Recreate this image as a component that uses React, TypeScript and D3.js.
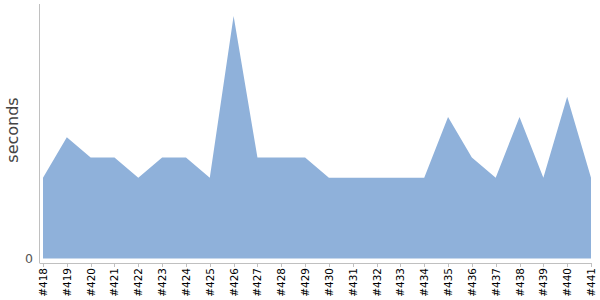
import React from "react";
import * as d3 from "d3";

const builds = ["#418","#419","#420","#421","#422","#423","#424","#425","#426","#427","#428","#429","#430","#431","#432","#433","#434","#435","#436","#437","#438","#439","#440","#441"];
const seconds = [4,6,5,5,4,5,5,4,12,5,5,5,4,4,4,4,4,7,5,4,7,4,8,4];
const yTicks = [0];

export default function App() {
  const W = 600, H = 300;
  const x = d3.scalePoint<string>().domain(builds).range([43, 591]);
  const y = d3.scaleLinear().domain([0, 12]).range([258.5, 16]);
  const data = builds.map((b, i) => ({ b, v: seconds[i] }));
  const area = d3.area<{ b: string; v: number }>()
    .x(d => x(d.b)!)
    .y0(y(0))
    .y1(d => y(d.v));
  const axisY = 263;
  return (
    <svg width={W} height={H} style={{ position: "absolute", left: 0, top: 0 }}>
      <path d={area(data)!} fill="#8fb1da" />
      <line x1={39.5} x2={39.5} y1={4} y2={axisY} stroke="#c0c0c0" />
      <line x1={39.5} x2={591.5} y1={axisY + 0.5} y2={axisY + 0.5} stroke="#c0c0c0" />
      {builds.map(b => (
        <g key={b}>
          <line x1={Math.round(x(b)!) + 0.5} x2={Math.round(x(b)!) + 0.5} y1={axisY} y2={axisY + 4} stroke="#c0c0c0" />
          <text
            transform={`translate(${x(b)! + 4},${axisY + 5}) rotate(-90)`}
            textAnchor="end"
            fontFamily="DejaVu Sans"
            fontSize={10.5}
            fill="#000"
          >{b}</text>
        </g>
      ))}
      {yTicks.map(t => (
        <text key={t} x={33} y={y(t) + 4.5} textAnchor="end" fontFamily="DejaVu Sans" fontSize={12.5} fill="#555">{t}</text>
      ))}
      <text
        transform={`translate(18,130) rotate(-90)`}
        textAnchor="middle"
        fontFamily="DejaVu Sans"
        fontSize={16}
        fill="#444"
      >seconds</text>
    </svg>
  );
}
